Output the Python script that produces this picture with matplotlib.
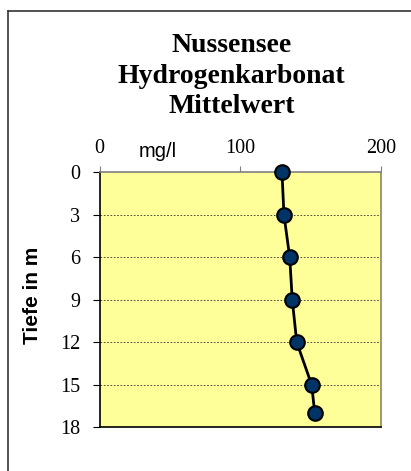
import numpy as np
import matplotlib
matplotlib.use("Agg")
import matplotlib.pyplot as plt
from matplotlib.lines import Line2D

# mean bicarbonate per depth
depth = [0, 3, 6, 9, 12, 15, 17]
conc = [129.6, 131.0, 135.1, 136.9, 140.1, 150.7, 152.9]
depth_ticks = [0, 3, 6, 9, 12, 15, 18]
conc_ticks = [0, 100, 200]

serif = "Liberation Serif"
sans = "Liberation Sans"

fig = plt.figure(figsize=(4.11, 4.71), dpi=100)
ax = fig.add_axes([0.2426, 0.0928, 0.6844, 0.5414])
ax.set_facecolor("#FFFF99")

ax.plot(conc, depth, color="black", lw=2, marker="o", ms=10.5,
        mfc="#003366", mec="black", mew=1.5, zorder=3, clip_on=False)

ax.set_xlim(0, 200)
ax.set_ylim(18, 0)
ax.set_xticks(conc_ticks)
ax.set_yticks(depth_ticks)
ax.xaxis.tick_top()
ax.tick_params(axis="x", direction="out", length=4, pad=6, labelsize=14.5,
               color="#808080")
ax.tick_params(axis="y", direction="out", length=5, pad=9, labelsize=14.5)
for lab in ax.get_xticklabels() + ax.get_yticklabels():
    lab.set_fontfamily(serif)

for d in depth_ticks[1:-1]:
    ax.axhline(d, color="#333333", lw=0.6, ls=(0, (2, 2)), zorder=1)

ax.spines["left"].set_color("black")
ax.spines["bottom"].set_color("black")
ax.spines["top"].set_color("#808080")
ax.spines["right"].set_color("#8a8a60")
for s in ax.spines.values():
    s.set_linewidth(1.2)

fig.text(0.564, 0.93, "Nussensee\nHydrogenkarbonat\nMittelwert",
         ha="center", va="top", fontsize=20, fontweight="bold",
         family=serif, linespacing=1.3)
fig.text(0.384, 0.679, "mg/l", ha="center", va="center",
         fontsize=14.5, family=sans)
fig.text(0.08, 0.372, "Tiefe in m", ha="center", va="center",
         rotation=90, fontsize=15, fontweight="bold", family=sans)

# outer frame lines
fig.add_artist(Line2D([0.0195, 0.0195], [0.0, 0.977], color="#333333", lw=1.2))
fig.add_artist(Line2D([0.0195, 1.0], [0.977, 0.977], color="#333333", lw=1.2))

plt.savefig("out.png", dpi=100)
